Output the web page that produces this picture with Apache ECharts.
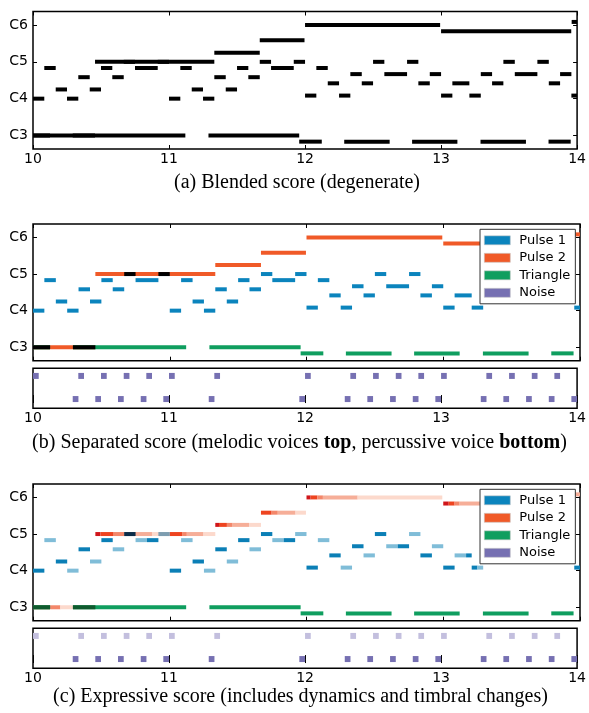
<!DOCTYPE html>
<html><head><meta charset="utf-8">
<script src="https://cdn.jsdelivr.net/npm/echarts@6/dist/echarts.min.js"></script>
<style>html,body{margin:0;padding:0;background:#fff}#c{width:589px;height:713px}</style>
</head><body><div id="c"></div>
<script>
// ---------------- data ----------------
const xTicks = [10, 11, 12, 13, 14];
const yTickValues = [48, 60, 72, 84];
const yTickLabels = ['C3', 'C4', 'C5', 'C6'];
const voiceNames = ['Pulse 1', 'Pulse 2', 'Triangle', 'Noise'];
const captionA = '(a) Blended score (degenerate)';
const captionB = '(b) Separated score (melodic voices {b|top}, percussive voice {b|bottom})';
const captionC = '(c) Expressive score (includes dynamics and timbral changes)';

// [start, end, midi pitch]
const pulse1Notes = [
  [10.000,10.083,60],[10.083,10.167,70],[10.167,10.250,63],[10.250,10.333,60],
  [10.333,10.417,67],[10.417,10.500,63],[10.500,10.583,70],[10.583,10.667,67],
  [10.667,10.750,72],[10.750,10.917,70],[10.917,11.000,72],
  [11.000,11.083,60],[11.083,11.167,70],[11.167,11.250,63],[11.250,11.333,60],
  [11.333,11.417,67],[11.417,11.500,63],[11.500,11.583,70],[11.583,11.667,67],
  [11.667,11.750,72],[11.750,11.917,70],[11.917,12.000,72],
  [12.000,12.083,61],[12.083,12.167,70],[12.167,12.250,65],[12.250,12.333,61],
  [12.333,12.417,68],[12.417,12.500,65],[12.500,12.583,72],[12.583,12.750,68],
  [12.750,12.833,72],[12.833,12.917,65],[12.917,13.000,68],
  [13.000,13.083,61],[13.083,13.208,65],[13.208,13.292,61],[13.292,13.375,68],
  [13.375,13.458,65],[13.458,13.542,72],[13.542,13.708,68],[13.708,13.792,72],
  [13.792,13.875,65],[13.875,13.958,68],[13.958,14.042,61]
];
const pulse2Notes = [
  [10.000,10.456,48],[10.456,11.000,72],[11.000,11.333,72],[11.333,11.667,75],
  [11.667,11.996,79],[12.000,12.993,84],[13.000,13.957,82],[13.960,14.050,85]
];
const triangleNotes = [
  [10.000,10.125,48],[10.292,11.120,48],[11.290,11.957,48],[11.957,12.123,46],
  [12.288,12.622,46],[12.787,13.120,46],[13.290,13.624,46],[13.790,13.953,46]
];
// [onset, offset, row]  row 1 = upper, row 0 = lower
const noiseHits = [
  [10.000,10.042,1],[10.333,10.375,1],[10.500,10.542,1],[10.667,10.709,1],[10.833,10.875,1],
  [11.000,11.042,1],[11.333,11.375,1],[12.000,12.042,1],[12.333,12.375,1],[12.500,12.542,1],
  [12.667,12.709,1],[12.833,12.875,1],[13.000,13.042,1],[13.333,13.375,1],[13.500,13.542,1],
  [13.667,13.709,1],[13.833,13.875,1],
  [10.292,10.334,0],[10.458,10.500,0],[10.625,10.667,0],[10.792,10.834,0],[10.958,11.000,0],
  [11.292,11.334,0],[11.958,12.000,0],[12.292,12.334,0],[12.458,12.500,0],[12.625,12.667,0],
  [12.792,12.834,0],[12.958,13.000,0],[13.292,13.334,0],[13.458,13.500,0],[13.625,13.667,0],
  [13.792,13.834,0],[13.958,14.000,0]
];
// expressive segments [start, end, pitch, level]  (pulse 1: 0 strong, 1 soft)
const pulse1Expr = [
  [10.000,10.083,60,0],[10.083,10.167,70,1],[10.167,10.250,63,0],[10.250,10.333,60,1],
  [10.333,10.417,67,0],[10.417,10.500,63,1],[10.500,10.583,70,0],[10.583,10.667,67,1],
  [10.667,10.750,72,0],[10.750,10.833,70,1],[10.833,10.917,70,0],[10.917,11.000,72,1],
  [11.000,11.083,60,0],[11.083,11.167,70,1],[11.167,11.250,63,0],[11.250,11.333,60,1],
  [11.333,11.417,67,0],[11.417,11.500,63,1],[11.500,11.583,70,0],[11.583,11.667,67,1],
  [11.667,11.750,72,0],[11.750,11.833,70,1],[11.833,11.917,70,0],[11.917,12.000,72,1],
  [12.000,12.083,61,0],[12.083,12.167,70,1],[12.167,12.250,65,0],[12.250,12.333,61,1],
  [12.333,12.417,68,0],[12.417,12.500,65,1],[12.500,12.583,72,0],[12.583,12.667,68,1],
  [12.667,12.750,68,0],[12.750,12.833,72,1],[12.833,12.917,65,0],[12.917,13.000,68,1],
  [13.000,13.083,61,0],[13.083,13.167,65,1],[13.167,13.208,65,0],[13.208,13.250,61,0],
  [13.250,13.292,61,1],[13.292,13.333,68,1],[13.333,13.375,68,0],[13.375,13.417,65,0],
  [13.417,13.458,65,1],[13.458,13.500,72,1],[13.500,13.542,72,0],[13.542,13.583,68,0],
  [13.583,13.667,68,1],[13.667,13.708,68,0],[13.708,13.750,72,0],[13.750,13.792,72,1],
  [13.792,13.833,65,1],[13.833,13.875,65,0],[13.875,13.917,68,0],[13.917,13.958,68,1],
  [13.958,14.042,61,0]
];
// pulse 2: level 0 attack ... 4 faded
const pulse2Expr = [
  [10.000,10.125,48,2],[10.125,10.200,48,2],[10.200,10.456,48,4],
  [10.456,10.493,72,0],[10.493,10.590,72,1],[10.590,10.667,72,2],[10.667,10.870,72,3],
  [10.870,11.000,72,4],
  [11.000,11.090,72,1],[11.090,11.125,72,2],[11.125,11.247,72,3],[11.247,11.333,72,4],
  [11.333,11.360,75,0],[11.360,11.418,75,1],[11.418,11.460,75,2],[11.460,11.580,75,3],[11.580,11.667,75,4],
  [11.667,11.745,79,1],[11.745,11.790,79,2],[11.790,11.920,79,3],[11.920,11.996,79,4],
  [12.000,12.030,84,0],[12.030,12.080,84,1],[12.080,12.120,84,2],[12.120,12.374,84,3],[12.374,12.993,84,4],
  [13.000,13.040,82,0],[13.040,13.083,82,1],[13.083,13.120,82,2],[13.120,13.270,82,3],[13.270,13.957,82,4],
  [13.960,14.050,85,3]
];

// ---------------- style ----------------
const C_P1 = '#0b84bd', C_P2 = '#f05a28', C_TRI = '#0f9e5f', C_NOISE = '#7670b2';
const P1_SHADES = ['#0b7fb6', '#80bdd8'];
const P2_SHADES = ['#d0161b', '#ee4420', '#f3876a', '#f6ae98', '#fcd9cc'];
const OVL_C = ['#0b2c48', '#7d9db0', '#0f5a2e'];
const NOISE_C = ['#7670b2', '#c3bfde'];
const TICK_FONT = 'DejaVu Sans';

// overlap helper (same pitch, same time in two voices)
function overlaps(a, b, tag) {
  const out = [];
  a.forEach(n => b.forEach(m => {
    if (n[2] === m[2]) {
      const s = Math.max(n[0], m[0]), e = Math.min(n[1], m[1]);
      if (e > s) out.push([s, e, n[2], tag === undefined ? m[3] : tag]);
    }
  }));
  return out;
}
const overlapB = overlaps(pulse2Notes, pulse1Notes.concat(triangleNotes), 0);
const overlapC = overlaps(pulse2Notes, pulse1Expr).concat(overlaps(pulse2Notes, triangleNotes, 2));

function barRender(thick, colorOf) {
  return function (params, api) {
    const y = api.value(2);
    const p0 = api.coord([api.value(0), y]);
    const p1 = api.coord([api.value(1), y]);
    const cs = params.coordSys;
    const r = echarts.graphic.clipRectByRect(
      {x: p0[0], y: p0[1] - thick / 2, width: p1[0] - p0[0], height: thick},
      {x: cs.x, y: cs.y, width: cs.width, height: cs.height});
    if (!r) return null;
    return {type: 'rect', shape: r, style: {fill: colorOf(api)}};
  };
}
function noteSeries(name, data, g, thick, colorOf, z) {
  return {type: 'custom', name: name, xAxisIndex: 2 * g, yAxisIndex: 2 * g, data: data,
    renderItem: barRender(thick, colorOf), encode: {x: [0, 1], y: 2}, silent: true, z: z || 2};
}

const L = 33, W = 547;
const grids = [
  {top: 11.5, height: 137.5},
  {top: 224, height: 136.7},
  {top: 368.3, height: 40},
  {top: 484, height: 136.7},
  {top: 628.3, height: 40}
].map(g => ({left: L, width: W, top: g.top, height: g.height, show: true,
  borderColor: '#000', borderWidth: 1.5, backgroundColor: 'transparent'}));

const tick = {inside: true, length: 4, lineStyle: {color: '#000', width: 1}};
const xAxes = [], yAxes = [];
[true, false, true, false, true].forEach((lab, g) => {
  xAxes.push({type: 'value', gridIndex: g, min: xTicks[0], max: xTicks[xTicks.length - 1], interval: 1,
    position: 'bottom', axisLine: {show: false}, splitLine: {show: false}, axisTick: tick,
    axisLabel: {show: lab, margin: 3, fontSize: 14, fontFamily: TICK_FONT, color: '#000'}});
  xAxes.push({type: 'value', gridIndex: g, min: xTicks[0], max: xTicks[xTicks.length - 1], interval: 1,
    position: 'top', axisLine: {show: false}, splitLine: {show: false}, axisTick: tick,
    axisLabel: {show: false}});
  const isNoise = (g === 2 || g === 4);
  const ymin = isNoise ? -0.4 : 43.6, ymax = isNoise ? 1.33 : 88.4;
  const ytick = isNoise ? {show: false} : Object.assign({customValues: yTickValues}, tick);
  yAxes.push({type: 'value', gridIndex: g, min: ymin, max: ymax, position: 'left',
    axisLine: {show: false}, splitLine: {show: false}, axisTick: ytick,
    axisLabel: isNoise ? {show: false} : {customValues: yTickValues, margin: 5, fontSize: 14,
      fontFamily: TICK_FONT, color: '#000', formatter: v => yTickLabels[yTickValues.indexOf(v)]}});
  yAxes.push({type: 'value', gridIndex: g, min: ymin, max: ymax, position: 'right',
    axisLine: {show: false}, splitLine: {show: false}, axisTick: ytick, axisLabel: {show: false}});
});

const series = [];
// (a) blended
series.push(noteSeries('a-p1', pulse1Notes, 0, 4, () => '#000'));
series.push(noteSeries('a-p2', pulse2Notes, 0, 4, () => '#000'));
series.push(noteSeries('a-tri', triangleNotes, 0, 4, () => '#000'));
// (b) separated
series.push(noteSeries('Pulse 1', pulse1Notes, 1, 4, () => C_P1));
series.push(noteSeries('Pulse 2', pulse2Notes, 1, 4, () => C_P2));
series.push(noteSeries('Triangle', triangleNotes, 1, 4, () => C_TRI));
series.push(noteSeries('b-ovl', overlapB, 1, 4, () => '#000', 3));
series.push(noteSeries('Noise', noiseHits, 2, 6, () => C_NOISE));
// (c) expressive
series.push(noteSeries('Pulse 1', pulse1Expr, 3, 4, api => P1_SHADES[api.value(3)]));
series.push(noteSeries('Pulse 2', pulse2Expr, 3, 4, api => P2_SHADES[api.value(3)]));
series.push(noteSeries('Triangle', triangleNotes, 3, 4, () => C_TRI));
series.push(noteSeries('c-ovl', overlapC, 3, 4, api => OVL_C[api.value(3)], 3));
series.push(noteSeries('Noise', noiseHits, 4, 6, api => NOISE_C[api.value(2)]));

const legendColors = [C_P1, C_P2, C_TRI, C_NOISE];
function legendAt(top) {
  return {
    left: 480, top: top, orient: 'vertical',
    data: voiceNames.map((n, i) => ({name: n, icon: 'rect',
      itemStyle: {color: legendColors[i], borderColor: '#c8c8c8', borderWidth: 0.6}})),
    itemWidth: 26, itemHeight: 9, itemGap: 3.5, padding: [4, 5, 4, 4],
    backgroundColor: '#fff', borderColor: '#333', borderWidth: 1,
    textStyle: {fontSize: 13, fontFamily: TICK_FONT, color: '#000', lineHeight: 14, padding: [0, 0, 0, 4]},
    selectedMode: false, z: 10
  };
}

const serif = 'Liberation Serif';
const chart = echarts.init(document.getElementById('c'), null, {renderer: 'canvas'});
chart.setOption({
  animation: false,
  grid: grids, xAxis: xAxes, yAxis: yAxes, series: series,
  legend: [legendAt(229.3), legendAt(489.3)],
  graphic: [
    {type: 'text', x: 297, y: 182.7, style: {text: captionA, fontFamily: serif, fontSize: 20,
      fill: '#000', textAlign: 'center', textVerticalAlign: 'middle'}},
    {type: 'text', x: 299.5, y: 442.5, style: {text: captionB, fontFamily: serif, fontSize: 20,
      fill: '#000', textAlign: 'center', textVerticalAlign: 'middle',
      rich: {b: {fontWeight: 'bold', fontFamily: serif, fontSize: 20, fill: '#000'}}}},
    {type: 'text', x: 300.5, y: 696.5, style: {text: captionC, fontFamily: serif, fontSize: 20,
      fill: '#000', textAlign: 'center', textVerticalAlign: 'middle'}}
  ]
});
</script>
</body></html>
